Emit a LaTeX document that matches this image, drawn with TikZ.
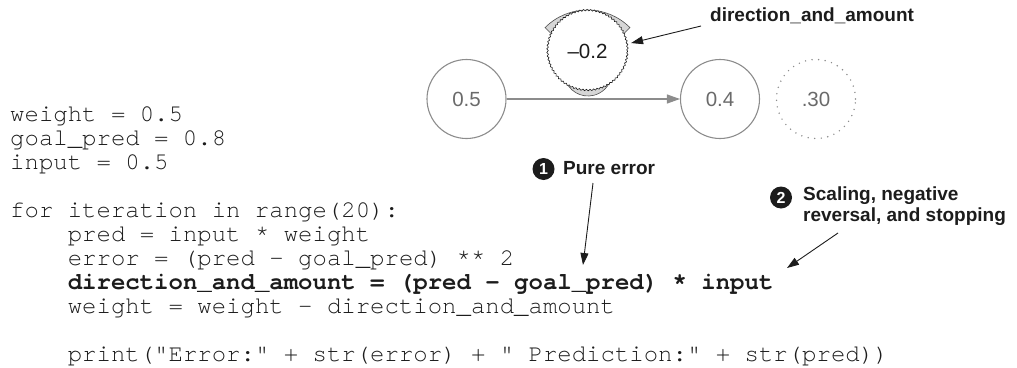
\documentclass[tikz,border=0pt]{standalone}
\usepackage{fontspec}
\usetikzlibrary{arrows.meta,decorations.pathmorphing}
\newfontfamily\codefont{texgyrecursor}[Extension=.otf, UprightFont=*-regular, BoldFont=*-bold]
\newfontfamily\labelfont{Liberation Sans}
\definecolor{nodegray}{HTML}{8C8C8C}
\definecolor{numgray}{HTML}{6A6A6A}
\definecolor{dialgray}{HTML}{D6D6D6}
\definecolor{ink}{HTML}{1C1C1C}

\begin{document}
\begin{tikzpicture}[x=1pt,y=1pt,
  code/.style={anchor=base west, inner sep=0pt, text=ink,
    font=\codefont\fontsize{24}{24}\selectfont},
  boldcode/.style={code, font=\codefont\bfseries\fontsize{24}{24}\selectfont},
  numnode/.style={circle, draw=nodegray, line width=1.1pt, minimum size=79pt,
    inner sep=0pt, text=numgray, font=\labelfont\fontsize{20.5}{20.5}\selectfont},
  ghost/.style={numnode, draw=nodegray, line width=1.6pt, line cap=round,
    dash pattern=on 0pt off 6.6pt},
  wave/.style={circle, minimum size=80pt, inner sep=0pt, fill=white, draw=ink,
    line width=0.6pt, decorate, decoration={snake, amplitude=0.75pt, segment length=3.6pt},
    text=ink, font=\labelfont\fontsize{20.5}{20.5}\selectfont},
  dial/.style={fill=dialgray, draw=black!70, line width=0.6pt},
  lbl/.style={inner sep=0pt, text=ink, font=\labelfont\bfseries\fontsize{19}{20.5}\selectfont},
  disc/.style={circle, fill=ink, text=white, minimum size=22pt, inner sep=0pt,
    font=\labelfont\bfseries\fontsize{16}{16}\selectfont},
  ptr/.style={draw=ink, line width=0.9pt, -{Triangle[length=12pt,width=8pt]}},
  flow/.style={draw=nodegray, line width=1.1pt, -{Triangle[length=13pt,width=9pt]}}
]
\useasboundingbox (0,0) rectangle (1017,-367);

% network: input weight, prediction, goal
\node[numnode] (w)    at (466.5,-99) {0.5};
\node[numnode] (pred) at (720,-99)   {0.4};
\node[ghost]   (goal) at (816,-99)   {.30};
\draw[flow] (w) -- (pred);

% dial behind the adjustment bubble
\path[dial] (587.5,-70) -- ++(45:60) arc[start angle=45, end angle=135, radius=60] -- cycle;
\path[dial] (588,-72) -- ++(194:24) arc[start angle=194, end angle=346, radius=24] -- cycle;
\node[wave] (adj) at (587.5,-51) {–0.2};

% code listing
\node[code] (l1) at (10,-121) {weight = 0.5};
\node[code] (l2) at (10,-145) {goal\_pred = 0.8};
\node[code] (l3) at (10,-169) {input = 0.5};
\node[code] (l4) at (10,-217) {for iteration in range(20):};
\node[code] (l5) at (67.6,-241) {pred = input * weight};
\node[code] (l6) at (67.6,-265) {error = (pred - goal\_pred) ** 2};
\node[boldcode] (l7) at (67.6,-289) {direction\_and\_amount = (pred - goal\_pred) * input};
\node[code] (l8) at (67.6,-313) {weight = weight - direction\_and\_amount};
\node[code] (l9) at (67.6,-361) {print("Error:" + str(error) + " Prediction:" + str(pred))};

% annotations
\node[lbl, anchor=base west] (dal) at (710,-21) {direction\_and\_amount};
\coordinate (daltail) at (701,-26);
\draw[ptr, shorten >=4pt] (daltail) -- (adj.10);

\node[disc] (b1) at (543.5,-169) {1};
\node[lbl, anchor=base west] (pe) at (563,-174) {Pure error};
\coordinate (petail) at (593,-183);
\coordinate (pehead) at (583,-265);
\draw[ptr] (petail) -- (pehead);

\node[disc] (b2) at (781,-197.5) {2};
\node[lbl, anchor=north west, align=left] (sc) at (803,-187) {Scaling, negative\\reversal, and stopping};
\coordinate (sctail) at (838,-233);
\coordinate (schead) at (787,-268);
\draw[ptr] (sctail) -- (schead);
\end{tikzpicture}
\end{document}
